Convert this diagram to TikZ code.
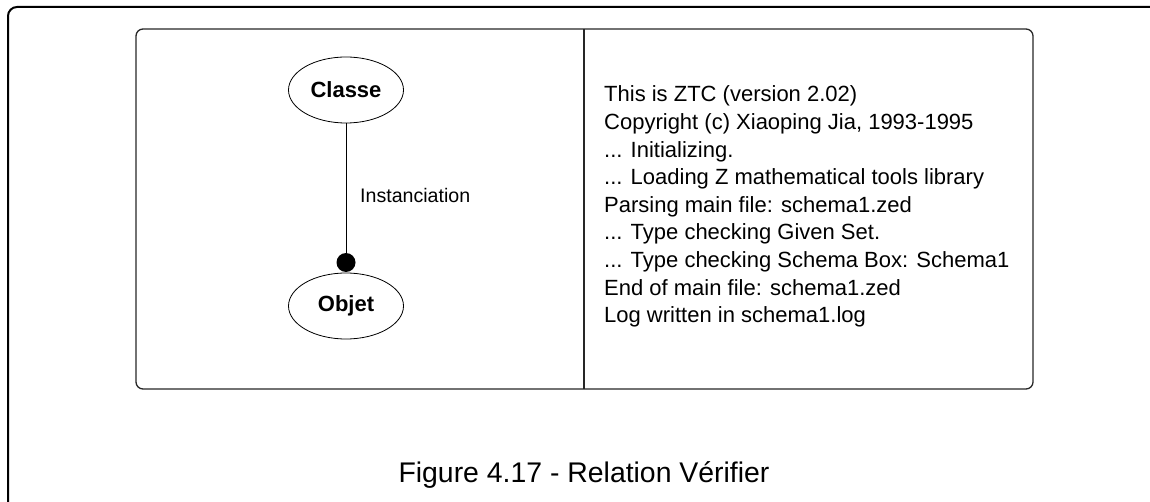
\documentclass[tikz,border=0pt]{standalone}
\usepackage{fontspec}
\setmainfont{Liberation Sans}
\usetikzlibrary{shapes.geometric}
\begin{document}
\begin{tikzpicture}[x=1pt,y=-1pt,
  frame/.style={draw=black,line width=2pt,rounded corners=9pt},
  panel/.style={draw=black!85,line width=1.3pt,rounded corners=7pt},
  cls/.style={draw=black,line width=0.8pt,ellipse,minimum width=115pt,minimum height=66pt,inner sep=0pt,font=\fontsize{22}{26}\selectfont\bfseries},
  txt/.style={anchor=base west,inner sep=0pt,font=\fontsize{22}{26}\selectfont},
  lbl/.style={anchor=west,inner sep=0pt,font=\fontsize{19.6}{23}\selectfont},
  captext/.style={anchor=base,inner sep=0pt,font=\fontsize{28.4}{32}\selectfont},
  link/.style={draw=black,line width=0.8pt}]
\useasboundingbox (0,0) rectangle (1150,502);
\clip (0,0) rectangle (1150,502);
\draw[frame] (8,7) rectangle (1170,520);
\draw[panel] (136,29) rectangle (1033,389);
\draw[panel] (584,29) -- (584,389);
\node[cls] (classe) at (346,90) {Classe};
\node[cls] (objet) at (346,306) {Objet};
\node[circle,fill=black,minimum size=19pt,inner sep=0pt] (dot) at (346,262.5) {};
\draw[link] (classe.south) -- (dot.center);
\node[lbl] (inst) at (360,195) {Instanciation};
\node[txt] (l1) at (604,102) {This is ZTC (version 2.02)};
\node[txt] (l2) at (604,129.6) {Copyright (c) Xiaoping Jia, 1993-1995};
\node[txt] (l3) at (604,157.2) {... Initializing.};
\node[txt] (l4) at (604,184.8) {... Loading Z mathematical tools library};
\node[txt] (l5) at (604,212.4) {Parsing main file: schema1.zed};
\node[txt] (l6) at (604,240) {... Type checking Given Set.};
\node[txt] (l7) at (604,267.6) {... Type checking Schema Box: Schema1};
\node[txt] (l8) at (604,295.2) {End of main file: schema1.zed};
\node[txt] (l9) at (604,322.8) {Log written in schema1.log};
\node[captext] (caption) at (584,482) {Figure 4.17 - Relation Vérifier};
\end{tikzpicture}
\end{document}
